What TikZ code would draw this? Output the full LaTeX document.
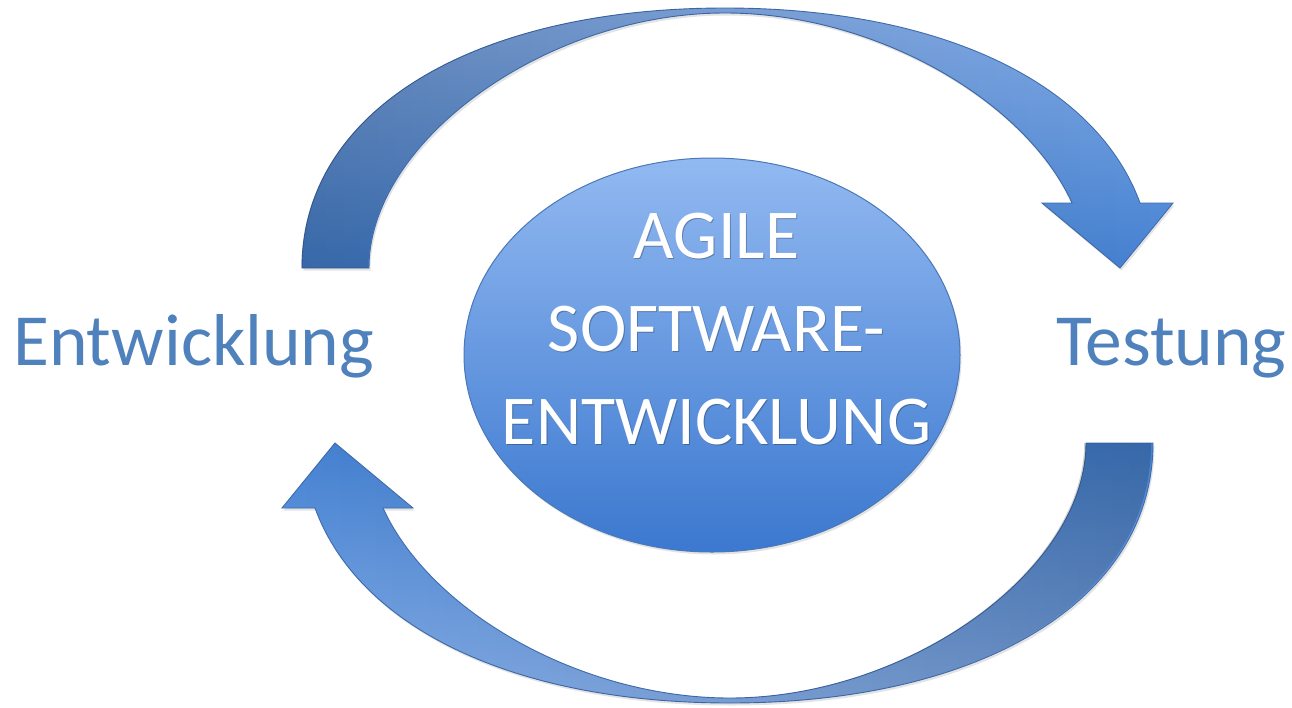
\documentclass[tikz,border=0pt]{standalone}
\usepackage{fontspec}
\setmainfont{Carlito}
\usetikzlibrary{shadows,shapes.geometric,fadings}
\definecolor{lbl}{HTML}{4F81BD}
\definecolor{ellTop}{HTML}{92B9F1}
\definecolor{ellMid}{HTML}{6A9BE0}
\definecolor{ellBot}{HTML}{3B78CF}
\definecolor{ellLine}{HTML}{4A78B8}
\definecolor{arrLight}{HTML}{86AFEB}
\definecolor{arrDeep}{HTML}{4582D2}
\definecolor{arrLine}{HTML}{3F6CAD}
\tikzfading[name=darkleft, left color=transparent!0, right color=transparent!100]
\tikzfading[name=darkright, left color=transparent!100, right color=transparent!0]
\newcommand\ArrTopPath{(302,268) .. controls (302,112) and (471,8) .. (725,8)
  .. controls (941.7,8) and (1096.5,83.7) .. (1140,203)
  -- (1173,203) -- (1120,268) -- (1042,203) -- (1072,203)
  .. controls (1025,100) and (875,13) .. (725,13)
  .. controls (547,13) and (369,140.5) .. (369,268) -- cycle}
\newcommand\ArrBotPath{(1153,443) .. controls (1153,599) and (984,703) .. (730,703)
  .. controls (513.3,703) and (358.5,627.3) .. (315,508)
  -- (282,508) -- (335,443) -- (413,508) -- (383,508)
  .. controls (430,611) and (580,698) .. (730,698)
  .. controls (908,698) and (1086,570.5) .. (1086,443) -- cycle}
\begin{document}
\begin{tikzpicture}[x=1pt,y=-1pt,
  arrowshape/.style={draw=arrLine, line width=0.9pt, line join=miter,
    drop shadow={opacity=0.22, shadow xshift=1.5pt, shadow yshift=-2.5pt}},
  sidelabel/.style={font=\fontsize{73.5}{88}\selectfont, text=lbl, inner sep=0pt, anchor=base west},
  coretext/.style={font=\fontsize{70}{84}\selectfont, text=white, inner sep=0pt, anchor=base},
  coreshadow/.style={font=\fontsize{70}{84}\selectfont, text=black, text opacity=0.25, inner sep=0pt, anchor=base},
]
\fill[white] (0,0) rectangle (1292,707);
\useasboundingbox (0,0) rectangle (1292,707);

% top curved arrow (Entwicklung -> Testung)
\shade[arrowshape, top color=arrLight, bottom color=arrDeep] \ArrTopPath;
\fill[black, fill opacity=0.2, path fading=darkleft] \ArrTopPath;

% bottom curved arrow (Testung -> Entwicklung)
\shade[arrowshape, top color=arrDeep, bottom color=arrLight] \ArrBotPath;
\fill[black, fill opacity=0.2, path fading=darkright] \ArrBotPath;

% central ellipse
\node[ellipse, minimum width=496pt, minimum height=394pt, inner sep=0pt,
      top color=ellTop, middle color=ellMid, bottom color=ellBot,
      draw=ellLine, line width=1pt,
      drop shadow={opacity=0.22, shadow xshift=1.5pt, shadow yshift=-2.5pt}] (core) at (712,355) {};

\node[coreshadow] (t1s) at (717.5,259.5) {AGILE};
\node[coreshadow] (t2s) at (717.5,352.5) {SOFTWARE-};
\node[coreshadow] (t3s) at (717.5,445.5) {ENTWICKLUNG};
\node[coretext] (t1) at (716.5,258) {AGILE};
\node[coretext] (t2) at (716.5,351) {SOFTWARE-};
\node[coretext] (t3) at (716.5,444) {ENTWICKLUNG};

\node[sidelabel] (dev) at (13,365) {Entwicklung};
\node[sidelabel] (test) at (1056,365) {Testung};
\end{tikzpicture}
\end{document}
